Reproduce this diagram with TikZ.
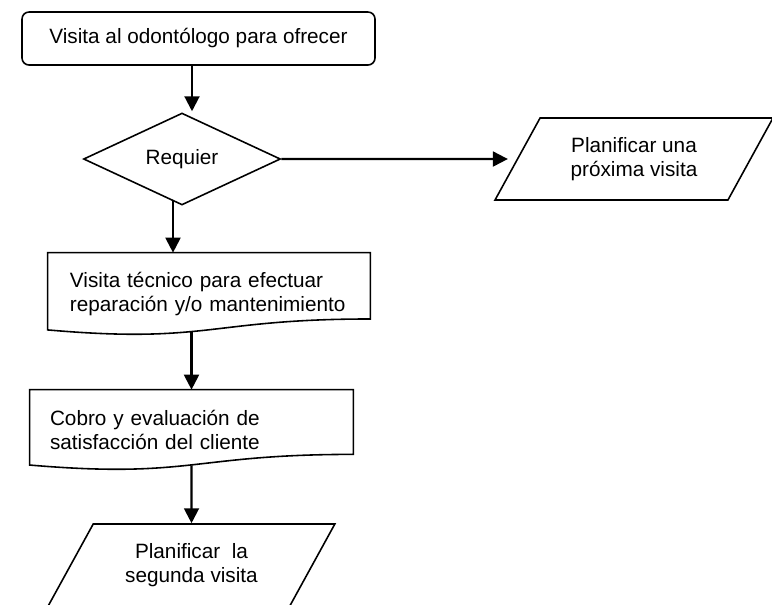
\documentclass[tikz,border=0pt]{standalone}
\usepackage{fontspec}
\setmainfont{Liberation Sans}
\usepackage{tikz}
\usetikzlibrary{shapes.geometric,arrows.meta,calc}

\tikzset{
  texto/.style={font=\fontsize{11.8}{13.7}\selectfont},
  caja/.style={texto, draw, line width=0.9pt, rounded corners=4pt, inner sep=0pt},
  documento/.style={texto, draw=none, inner sep=0pt},
  decision/.style={texto, draw, line width=0.9pt, diamond, inner sep=0pt},
  datos/.style={texto, draw, line width=0.9pt, trapezium, trapezium left angle=55,
    trapezium right angle=125, trapezium stretches=true, inner sep=0pt, align=center},
  flecha/.style={line width=1.2pt, -{Triangle[length=8.5pt, width=8.5pt]}}
}

\begin{document}
\begin{tikzpicture}
    \useasboundingbox (0,0) rectangle (15.44,-12.08);
    \clip (0,0) rectangle (15.44,-12.08);

    \node[caja, minimum width=7.06cm, minimum height=1.06cm] (b1) at (3.97,-0.77)
      {Visita al odontólogo para ofrecer};
    \node[decision, minimum width=3.94cm, minimum height=1.62cm] (dec) at (3.64,-3.18)
      {Requier};
    \node[datos, minimum width=5.56cm, minimum height=1.64cm] (p1) at (12.68,-3.18)
      {Planificar una\\próxima visita};
    \node[documento, minimum width=6.44cm, minimum height=1.64cm, text width=5.56cm,
      align=left] (b2) at (4.18,-5.88)
      {Visita técnico para efectuar\\reparación y/o mantenimiento};
    \node[documento, minimum width=6.46cm, minimum height=1.6cm, text width=5.66cm,
      align=left] (b3) at (3.83,-8.6)
      {Cobro y evaluación de\\satisfacción del cliente};
    \node[datos, minimum width=5.74cm, minimum height=1.64cm] (p2) at (3.83,-11.3)
      {Planificar\ \ la\\segunda visita};

    % contorno de documento
    \draw[line width=0.9pt] (b2.north west) -- (b2.north east)
      -- ($(b2.south east)!0.198!(b2.north east)$)
      .. controls ($(b2.south)!0.198!(b2.north)$) and ($(b2.south)+(0,-0.175)$)
      .. ($(b2.south west)!0.066!(b2.north west)$) -- cycle;
    \draw[line width=0.9pt] (b3.north west) -- (b3.north east)
      -- ($(b3.south east)!0.198!(b3.north east)$)
      .. controls ($(b3.south)!0.198!(b3.north)$) and ($(b3.south)+(0,-0.17)$)
      .. ($(b3.south west)!0.066!(b3.north west)$) -- cycle;

    \coordinate (e1) at ($(dec.north)+(0.2,0.02)$);
    \coordinate (s2) at ($(dec.south)+(-0.18,0.09)$);
    \draw[flecha] (b1.south -| e1) -- (e1);
    \draw[flecha, shorten >=5pt] (dec.east) -- (p1.west);
    \draw[flecha] (s2) -- (s2 |- b2.north);
    \draw[flecha] ($(b2.south -| b3.north)+(0,0.08)$) -- (b3.north);
    \draw[flecha] ($(b3.south)+(0,0.1)$) -- (p2.north);
\end{tikzpicture}
\end{document}
